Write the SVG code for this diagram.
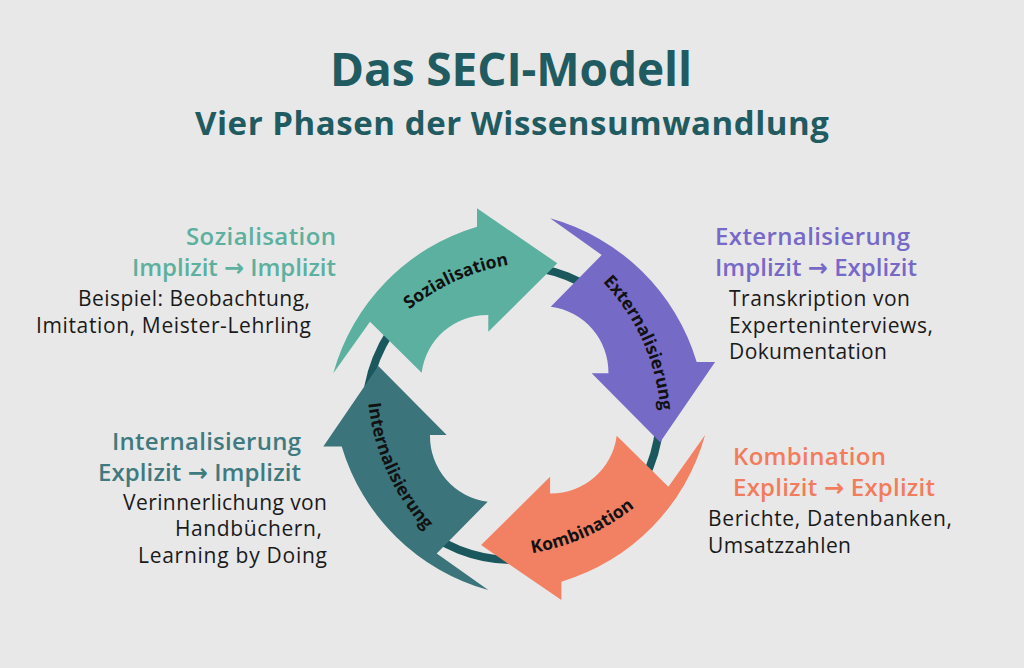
<svg xmlns="http://www.w3.org/2000/svg" width="1024" height="668" viewBox="0 0 1024 668">
<style>
.bg{fill:#e8e8e8}
.t{font-family:"Open Sans","DejaVu Sans",sans-serif}
.title{font-weight:700;fill:#1f5b60}
.hd{font-weight:600;font-size:24px}
.body{font-weight:400;font-size:21px;fill:#1a1a1a}
.lbl{font-weight:700;font-size:17.5px;fill:#111111}
.ring{fill:none;stroke:#1b585d;stroke-width:8}
.c-soz{fill:#5bb0a0}
.c-ext{fill:#766ac7}
.c-komb{fill:#f28062}
.c-int{fill:#3b747b}
.h-soz{fill:#5cb09f}
.h-ext{fill:#7769c8}
.h-komb{fill:#f27c5c}
.h-int{fill:#3f7a80}
</style>
<defs>
<path id="arrow" d="M 333.3 373.3 A 212 212 0 0 1 477 226.7 L 477 208.3 L 557.3 263.3 L 488.3 331.7 L 488.3 315 A 66 66 0 0 0 421.7 372.7 L 370 321.7 Z"/>
<path id="arc-soz" d="M 351.3 382.9 A 214 214 0 0 1 602.3 270.1"/>
<path id="arc-ext" d="M 540.5 236.3 A 214 214 0 0 1 653.3 487.3"/>
<path id="arc-komb" d="M 433.4 547.9 A 224 224 0 0 0 696.1 429.9"/>
<path id="arc-int" d="M 375.5 318.4 A 224 224 0 0 0 493.5 581.1"/>
</defs>
<rect class="bg" x="0" y="0" width="1024" height="668"/>

<g id="title">
<text class="t title" x="330" y="86" font-size="46" textLength="362">Das SECI-Modell</text>
<text class="t title" x="195" y="135" font-size="33" textLength="634">Vier Phasen der Wissensumwandlung</text>
</g>

<g id="connectors">
<circle class="ring" cx="513" cy="413" r="147"/>
</g>

<g id="node-sozialisation">
<use href="#arrow" class="c-soz"/>
<text class="t lbl"><textPath href="#arc-soz" startOffset="50%" text-anchor="middle">Sozialisation</textPath></text>
</g>
<g id="node-externalisierung">
<use href="#arrow" class="c-ext" transform="rotate(90 519.2 404.2)"/>
<text class="t lbl"><textPath href="#arc-ext" startOffset="50%" text-anchor="middle">Externalisierung</textPath></text>
</g>
<g id="node-kombination">
<use href="#arrow" class="c-komb" transform="rotate(180 519.2 404.2)"/>
<text class="t lbl"><textPath href="#arc-komb" startOffset="50%" text-anchor="middle">Kombination</textPath></text>
</g>
<g id="node-internalisierung">
<use href="#arrow" class="c-int" transform="rotate(270 519.2 404.2)"/>
<text class="t lbl"><textPath href="#arc-int" startOffset="50%" text-anchor="middle">Internalisierung</textPath></text>
</g>

<g id="label-sozialisation">
<text class="t hd h-soz" x="186" y="245" textLength="150">Sozialisation</text>
<text class="t hd h-soz" x="132" y="276" textLength="204">Implizit → Implizit</text>
<text class="t body" x="78" y="306" textLength="232">Beispiel: Beobachtung,</text>
<text class="t body" x="36" y="333" textLength="275">Imitation, Meister-Lehrling</text>
</g>

<g id="label-externalisierung">
<text class="t hd h-ext" x="715" y="245" textLength="195">Externalisierung</text>
<text class="t hd h-ext" x="715" y="276" textLength="202">Implizit → Explizit</text>
<text class="t body" x="729" y="306" textLength="181">Transkription von</text>
<text class="t body" x="729" y="333" textLength="204">Experteninterviews,</text>
<text class="t body" x="729" y="359" textLength="158">Dokumentation</text>
</g>

<g id="label-kombination">
<text class="t hd h-komb" x="733" y="465" textLength="153">Kombination</text>
<text class="t hd h-komb" x="733" y="496" textLength="202">Explizit → Explizit</text>
<text class="t body" x="708" y="526" textLength="244">Berichte, Datenbanken,</text>
<text class="t body" x="708" y="553" textLength="143">Umsatzzahlen</text>
</g>

<g id="label-internalisierung">
<text class="t hd h-int" x="112" y="450" textLength="189">Internalisierung</text>
<text class="t hd h-int" x="98" y="481" textLength="203">Explizit → Implizit</text>
<text class="t body" x="123" y="510" textLength="204">Verinnerlichung von</text>
<text class="t body" x="175" y="536" textLength="147">Handbüchern,</text>
<text class="t body" x="138" y="563" textLength="189">Learning by Doing</text>
</g>
</svg>
